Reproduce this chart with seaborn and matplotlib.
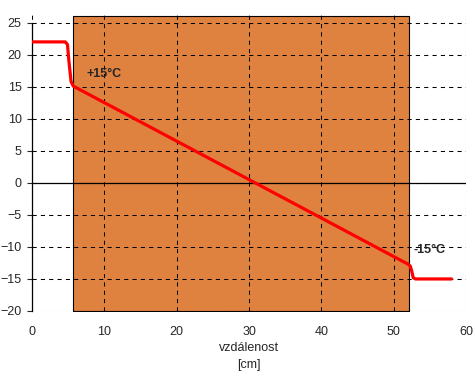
import matplotlib
matplotlib.use("Agg")
import matplotlib.pyplot as plt
import seaborn as sns
import pandas as pd

# temperature profile through the wall
dist = [0, 4.6, 4.9, 5.1, 5.4, 5.7, 52.0, 52.3, 52.5, 52.7, 53.0, 58.0]
temp = [22, 22, 21.6, 19.0, 15.8, 15.1, -12.7, -13.0, -13.8, -14.8, -15, -15]

wall_x = [5.7, 52.1]   # wall edges [cm]
wall_top = 26.05
axis_min = -20

labels = ["+15°C", "-15°C"]
label_x = [7.6, 52.7]
label_y = [17.0, -10.5]

sns.set_style("white")
plt.rcParams["font.family"] = ["Liberation Sans", "DejaVu Sans"]
plt.rcParams["font.size"] = 9

df = pd.DataFrame({"vzdalenost": dist, "teplota": temp})

fig = plt.figure(figsize=(4.75, 3.72), dpi=100)
ax = fig.add_axes([0.0674, 0.164, 0.9137, 0.7957])

ax.fill_between(wall_x, axis_min, wall_top, color="#E0823F",
                edgecolor="black", linewidth=0.8, zorder=1)

sns.lineplot(data=df, x="vzdalenost", y="teplota", sort=False,
             color="#FF0000", linewidth=2.3, ax=ax, zorder=3)

ax.axhline(0, color="black", linewidth=0.9, zorder=2.6)

for t, x, y in zip(labels, label_x, label_y):
    ax.text(x, y, t, fontsize=9, fontweight="bold", va="center", ha="left",
            zorder=4)

ax.set_xlim(0, 60)
ax.set_ylim(-20, 26.2)
ax.set_xticks(range(0, 61, 10))
ax.set_yticks(range(-20, 26, 5))
ax.set_axisbelow(False)
ax.grid(True, color="black", linestyle=(0, (4, 4)), linewidth=0.75)

for side in ["top", "right", "bottom"]:
    ax.spines[side].set_visible(False)
ax.spines["left"].set_bounds(-20, 25)
ax.spines["left"].set_linewidth(0.9)
ax.spines["left"].set_color("black")
ax.spines["left"].set_zorder(2.7)

ax.tick_params(axis="y", direction="out", length=3.5, width=0.8, pad=4,
               left=True, labelsize=9)
ax.tick_params(axis="x", length=0, pad=11, labelsize=9)
ax.set_xlabel("vzdálenost\n[cm]", fontsize=9, linespacing=1.5, labelpad=3)
ax.set_ylabel("")

plt.savefig("out.png", dpi=100)
